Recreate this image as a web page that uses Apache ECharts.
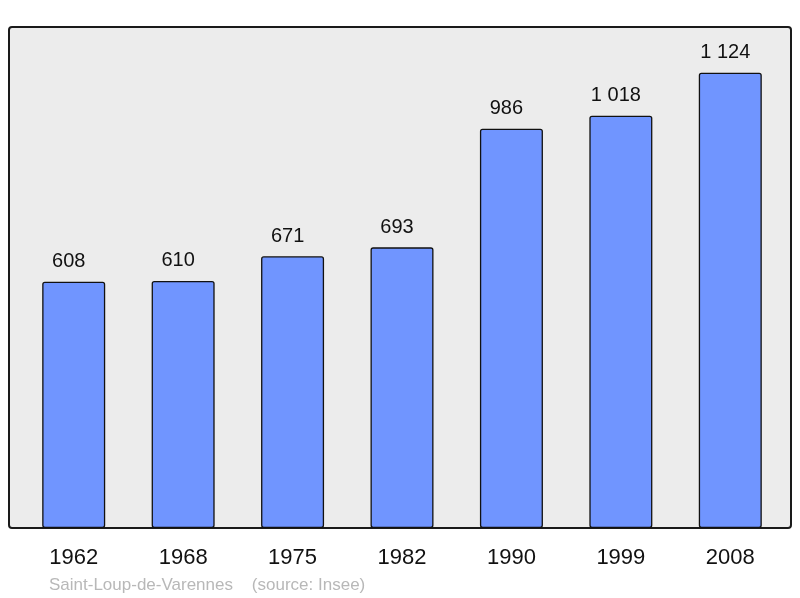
<!DOCTYPE html>
<html>
<head>
<meta charset="utf-8">
<script src="https://cdn.jsdelivr.net/npm/echarts@6/dist/echarts.min.js"></script>
<style>
  html, body { margin: 0; padding: 0; background: #fff; }
  #chart { width: 800px; height: 598px; }
</style>
</head>
<body>
<div id="chart"></div>
<script>
// years and population
var years = ['1962', '1968', '1975', '1982', '1990', '1999', '2008'];
var population = [608, 610, 671, 693, 986, 1018, 1124];

var chart = echarts.init(document.getElementById('chart'));

// space for thousands, like "1 124"
function fmt(v) {
  return String(v).replace(/\B(?=(\d{3})+(?!\d))/g, ' ');
}

chart.setOption({
  animation: false,
  textStyle: { fontFamily: 'Liberation Sans, Arial, sans-serif' },
  graphic: [
    {
      // grey frame behind the bars
      type: 'rect',
      z: -10,
      shape: { x: 9, y: 27, width: 782, height: 501, r: 3 },
      style: { fill: '#ececec', stroke: '#1a1a1a', lineWidth: 2 }
    },
    {
      type: 'text',
      left: 49,
      top: 577,
      style: {
        text: 'Saint-Loup-de-Varennes    (source: Insee)',
        fill: '#b8b8b8',
        font: '17px Liberation Sans, Arial, sans-serif'
      }
    }
  ],
  grid: { left: 19, right: 15, top: 27, bottom: 70 },
  xAxis: {
    type: 'category',
    data: years,
    axisLine: { show: false },
    axisTick: { show: false },
    axisLabel: { color: '#111', fontSize: 22, margin: 19 }
  },
  yAxis: {
    type: 'value',
    min: 0,
    max: 1237,
    show: false,
    splitLine: { show: false }
  },
  series: [{
    type: 'bar',
    data: population,
    barWidth: 63,
    itemStyle: {
      color: '#7095ff',
      borderColor: '#111',
      borderWidth: 1.3,
      borderRadius: 2
    },
    label: {
      show: true,
      position: 'top',
      distance: 10,
      offset: [-5, 0],
      color: '#111',
      fontSize: 20,
      formatter: function (p) { return fmt(p.value); }
    }
  }]
});
</script>
</body>
</html>
